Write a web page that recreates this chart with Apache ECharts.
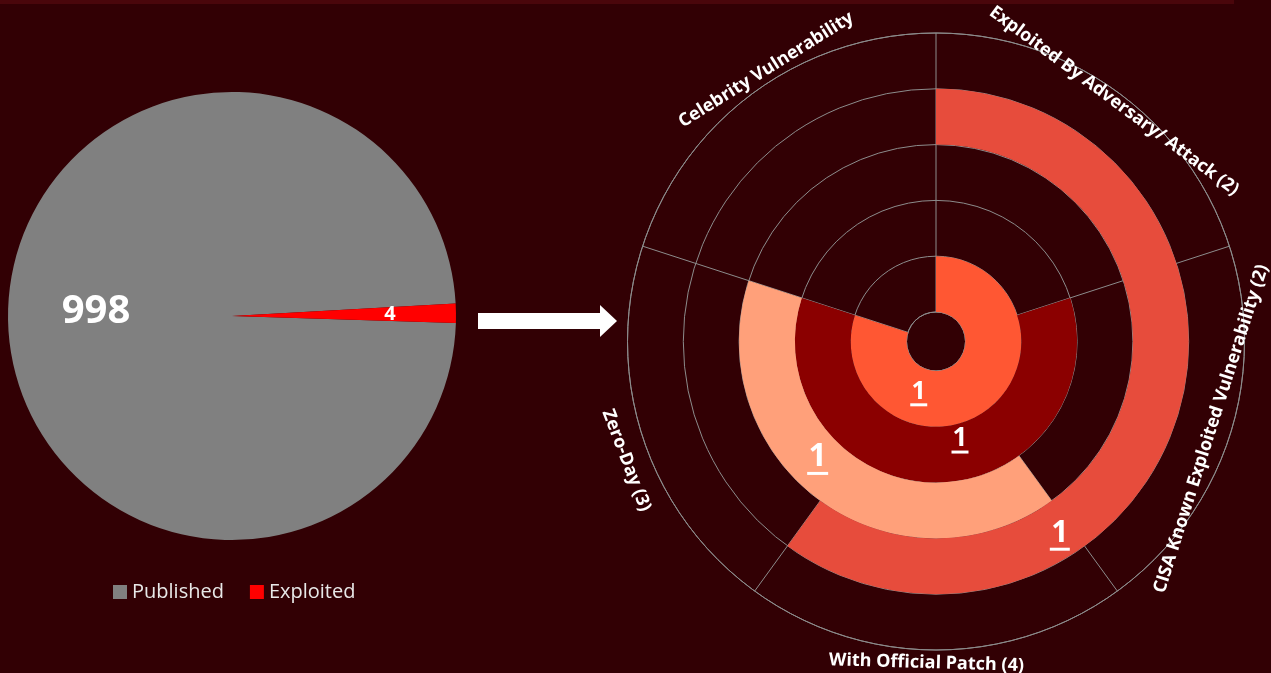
<!DOCTYPE html>
<html>
<head>
<meta charset="utf-8">
<script src="https://cdn.jsdelivr.net/npm/echarts@6/dist/echarts.min.js"></script>
<style>
html,body{margin:0;padding:0;background:#320004;}
#c{width:1271px;height:673px;}
</style>
</head>
<body>
<div id="c"></div>
<script>
// ---------- data ----------
const pieNames = ['Published', 'Exploited'];
const pieValues = [998, 4];

const tags = [
  'Exploited By Adversary/ Attack (2)',
  'CISA Known Exploited Vulnerability (2)',
  'With Official Patch (4)',
  'Zero-Day (3)',
  'Celebrity Vulnerability'
];
const rings = ['Vulnerability 1', 'Vulnerability 2', 'Vulnerability 3', 'Vulnerability 4'];
const ringStart = [0, 1, 2, 0];   // first tag index covered
const ringEnd = [4, 4, 4, 3];     // tag index where the ring stops
const ringCount = [1, 1, 1, 1];

// ---------- styles / layout ----------
const pieColors = ['#808080', '#FF0000'];
const ringColors = ['#FF5733', '#8B0000', '#FFA07A', '#E74C3C'];
const ringFont = [25, 26, 32, 30];
const ringUnder = [17, 17, 21, 20];
const ringShift = [[-51, 5], [24, -15], [-19, -20], [-90, 124]];
const tagNudge = [0.5, -0.4, 1.7, -3, 4];
const gridColor = '#8c8c8c';
const cx = 936, cy = 341.5, r0 = 29.5, r1 = 308.5;

const chart = echarts.init(document.getElementById('c'), null, {renderer: 'canvas'});

// tag labels around the polar chart
const meas = document.createElement('canvas').getContext('2d');
const tagFont = 'bold 18px "Open Sans"';
meas.font = tagFont;
const tagGraphics = tags.map((t, k) => {
  const theta = (k + 0.5) / tags.length * 360 + tagNudge[k];
  const L = meas.measureText(t).width;
  const Rend = 336;
  const rc = Math.sqrt(Math.max(Rend * Rend - (L / 2) * (L / 2), 0));
  const rad = theta * Math.PI / 180;
  const top = theta < 90 || theta > 270;
  const rotDeg = top ? -theta : 180 - theta;
  return {
    type: 'text',
    x: cx + rc * Math.sin(rad),
    y: cy - rc * Math.cos(rad),
    rotation: rotDeg * Math.PI / 180,
    silent: true,
    z: 100,
    style: {
      text: t,
      fill: '#ffffff',
      font: tagFont,
      align: 'center',
      verticalAlign: 'middle'
    }
  };
});

const rich = {};
ringFont.forEach((fs, i) => {
  rich['n' + i] = {fontSize: fs, fontWeight: 'bold', color: '#fff', fontFamily: 'Open Sans', lineHeight: fs * 0.95};
  rich['u' + i] = {width: ringUnder[i], height: 3, backgroundColor: '#fff', lineHeight: 3};
});

const option = {
  backgroundColor: '#320004',
  animation: false,
  color: pieColors,
  legend: {
    data: pieNames,
    left: 108,
    top: 577,
    icon: 'rect',
    itemWidth: 14,
    itemHeight: 14,
    itemGap: 26,
    textStyle: {color: '#e8e8e8', fontSize: 20, fontFamily: 'Open Sans'},
    selectedMode: false
  },
  polar: {center: [cx, cy], radius: [r0, r1]},
  angleAxis: {
    type: 'value', min: 0, max: tags.length, interval: 1,
    startAngle: 90, clockwise: true,
    axisLine: {show: true, lineStyle: {color: gridColor, width: 1}},
    axisTick: {show: false},
    axisLabel: {show: false},
    splitLine: {show: true, lineStyle: {color: gridColor, width: 1}}
  },
  radiusAxis: {
    type: 'category',
    data: rings.concat(['']),
    axisLine: {show: false},
    axisTick: {show: false, interval: 0},
    axisLabel: {show: false, interval: 0},
    splitLine: {show: true, interval: 0, lineStyle: {color: gridColor, width: 1}}
  },
  graphic: [
    {type: 'rect', shape: {x: 0, y: 0, width: 1234, height: 4}, style: {fill: '#4a060b'}, silent: true},
    {type: 'polygon', silent: true,
     shape: {points: [[478, 313], [600, 313], [600, 305], [617, 321], [600, 337], [600, 329], [478, 329]]},
     style: {fill: '#ffffff'}}
  ].concat(tagGraphics),
  series: [
    {
      type: 'pie',
      center: [232, 316],
      radius: [0, 224],
      startAngle: -1.8,
      minAngle: 5,
      clockwise: true,
      silent: true,
      emphasis: {disabled: true},
      labelLine: {show: false},
      data: pieNames.map((n, i) => ({
        name: n,
        value: pieValues[i],
        itemStyle: {color: pieColors[i]},
        label: {fontSize: i === 0 ? 40 : 20}
      })),
      label: {
        show: true, position: 'inside', formatter: '{c}',
        color: '#fff', fontWeight: 'bold', fontFamily: 'Open Sans'
      },
      labelLayout: p => p.dataIndex === 0 ? {dx: -21, dy: -6} : {dx: 43, dy: 0}
    },
    {
      type: 'bar', coordinateSystem: 'polar', stack: 'ring',
      barCategoryGap: '0%',
      silent: true,
      itemStyle: {color: 'rgba(0,0,0,0)'},
      data: ringStart
    },
    {
      type: 'bar', coordinateSystem: 'polar', stack: 'ring',
      barCategoryGap: '0%',
      silent: true,
      data: ringEnd.map((e, i) => ({value: e - ringStart[i], itemStyle: {color: ringColors[i]}})),
      label: {
        show: true, position: 'middle', rotate: 0,
        formatter: p => '{n' + p.dataIndex + '|' + ringCount[p.dataIndex] + '}\n{u' + p.dataIndex + '|}',
        rich: rich,
        align: 'center',
        verticalAlign: 'middle'
      },
      labelLayout: p => ({dx: ringShift[p.dataIndex][0], dy: ringShift[p.dataIndex][1]})
    }
  ]
};
chart.setOption(option);
</script>
</body>
</html>
